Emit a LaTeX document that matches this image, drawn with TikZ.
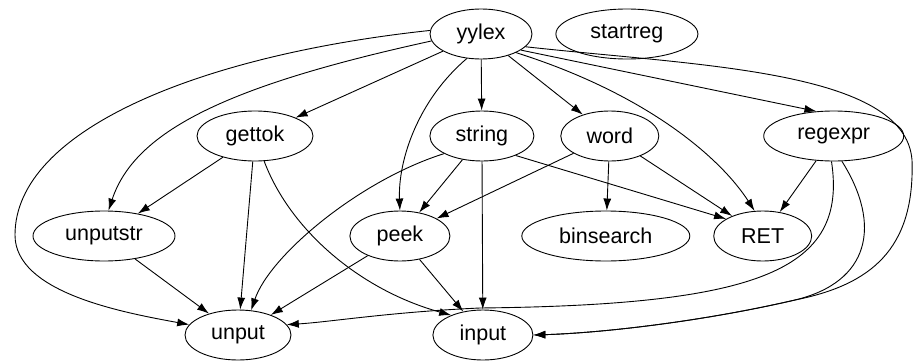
\documentclass[tikz,border=0pt]{standalone}
\usepackage{fontspec}
\setmainfont{Liberation Sans}
\usepackage{tikz}
\usetikzlibrary{positioning}
\usetikzlibrary{shapes.geometric}
\usetikzlibrary{arrows.meta}

\begin{document}
\begin{tikzpicture}[x=1pt, y=-1pt, line width=0.9pt,
  fn/.style = {draw, ellipse, inner sep=0pt, minimum height=50pt,
    font=\fontsize{21.5}{24}\selectfont},
  >={Latex[length=12pt,width=8pt]}]
\useasboundingbox (0,0) rectangle (920,361);

\node[fn, minimum width=102pt] (yylex) at (481,34) {yylex};
\node[fn, minimum width=142pt] (startreg) [right=23pt of yylex] {startreg};

\node[fn, minimum width=116pt] (gettok) at (255,136) {gettok};
\node[fn, minimum width=104pt] (string) [right=116pt of gettok] {string};
\node[fn, minimum width=98pt] (word) [right=26pt of string] {word};
\node[fn, minimum width=140pt] (regexpr) [right=104pt of word] {regexpr};

\node[fn, minimum width=142pt] (unputstr) at (104,236) {unputstr};
\node[fn, minimum width=100pt] (peek) [right=174pt of unputstr] {peek};
\node[fn, minimum width=168pt] (binsearch) [right=71pt of peek] {binsearch};
\node[fn, minimum width=98pt] (RET) [right=23pt of binsearch] {RET};

\node[fn, minimum width=106pt] (unput) at (238,335) {unput};
\node[fn, minimum width=100pt] (input) [right=141pt of unput] {input};

% from yylex
\draw[->] (yylex) -- (gettok);
\draw[->] (yylex) -- (string);
\draw[->] (yylex) -- (word);
\draw[->] (yylex.-22) -- (regexpr.125);
\draw[->] (yylex.-28) .. controls (650,95) and (722,160) .. (RET.108);
\draw[->] (yylex.-120) .. controls (418,100) and (398,160) .. (peek.north);
\draw[->] (yylex.188) .. controls (230,85) and (135,130) .. (unputstr.80);
\draw[->] (yylex.176) .. controls (200,55) and (15,130) .. (15,235)
  .. controls (15,292) and (120,312) .. (unput.168);
\draw[->] (yylex.-16) .. controls (700,66) and (905,70) .. (912,160)
  .. controls (915,250) and (870,285) .. (795,300)
  .. controls (700,322) and (600,333) .. (input.east);

% second row
\draw[->] (gettok) -- (unputstr);
\draw[->] (gettok.-95) -- (unput.85);
\draw[->] (gettok.-70) .. controls (290,230) and (360,290) .. (input.148);
\draw[->] (string) -- (peek);
\draw[->] (string.-155) .. controls (360,180) and (270,255) .. (unput.62);
\draw[->] (string) -- (input);
\draw[->] (string.-30) -- (RET.155);
\draw[->] (word) -- (binsearch);
\draw[->] (word) -- (RET);
\draw[->] (word) -- (peek);
\draw[->] (regexpr) -- (RET);
\draw[->] (regexpr.-95) .. controls (848,270) and (760,305) .. (480,308)
  .. controls (390,312) and (330,322) .. (unput.12);
\draw[->] (regexpr.-72) .. controls (882,225) and (870,282) .. (795,300)
  .. controls (700,322) and (600,333) .. (input.east);

% third row
\draw[->] (unputstr) -- (unput);
\draw[->] (peek) -- (unput);
\draw[->] (peek) -- (input);
\end{tikzpicture}
\end{document}
